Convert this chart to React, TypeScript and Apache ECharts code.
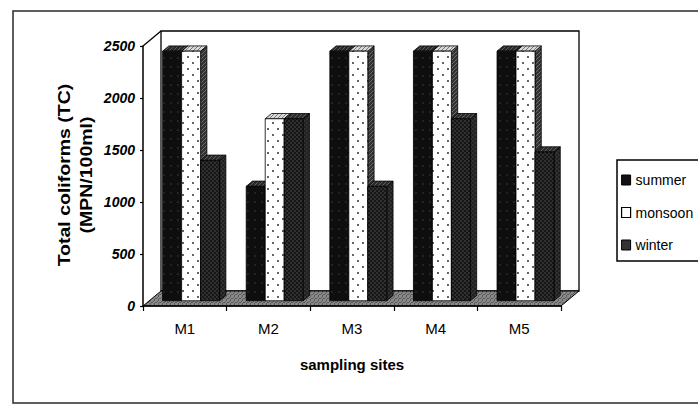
import React, { useEffect, useRef } from "react";
import * as echarts from "echarts";

// Sampling sites and total coliform counts (MPN/100ml) per season
const CATEGORIES = ["M1", "M2", "M3", "M4", "M5"];
const SUMMER = [2400, 1100, 2400, 2400, 2400];
const MONSOON = [2400, 1750, 2400, 2400, 2400];
const WINTER = [1350, 1750, 1100, 1750, 1430];
const SERIES_NAMES = ["summer", "monsoon", "winter"];
const Y_MIN = 0;
const Y_MAX = 2500;
const Y_STEP = 500;

// Plot frame (front plane) and the oblique depth of the 3D box
const GRID = { left: 143, top: 46, width: 418, height: 260 };
const DEPTH = { x: 18, y: -15 };
const BAR_OFFSET = 0.35; // where the bar fronts sit inside the depth
const BAR_DEPTH = 0.35; // how deep each bar is
const BAR_FRAC = 0.227; // bar width as a share of the category band

const FONT = "'Liberation Sans', Arial, sans-serif";

type Faces = { front: any; side: any; top: any };

function tile(w: number, h: number, bg: string, draw: (ctx: CanvasRenderingContext2D) => void) {
  const c = document.createElement("canvas");
  c.width = w;
  c.height = h;
  const ctx = c.getContext("2d")!;
  ctx.fillStyle = bg;
  ctx.fillRect(0, 0, w, h);
  draw(ctx);
  return { image: c, repeat: "repeat", imageWidth: w, imageHeight: h };
}

function dots(ctx: CanvasRenderingContext2D, color: string, r: number, pts: number[][]) {
  ctx.fillStyle = color;
  for (const [x, y] of pts) {
    ctx.beginPath();
    ctx.arc(x, y, r, 0, Math.PI * 2);
    ctx.fill();
  }
}

function hatch(ctx: CanvasRenderingContext2D, color: string, w: number, h: number, step: number, lw: number) {
  ctx.strokeStyle = color;
  ctx.lineWidth = lw;
  for (let k = -h; k < w + h; k += step) {
    ctx.beginPath();
    ctx.moveTo(k, h);
    ctx.lineTo(k + h, 0);
    ctx.stroke();
  }
}

function buildFaces(): Faces[] {
  const summer: Faces = {
    front: tile(7, 9, "#0e0e0e", (c) => dots(c, "#4c4c4c", 0.7, [[3, 4]])),
    side: tile(4, 4, "#242424", (c) => hatch(c, "#4a4a4a", 4, 4, 4, 0.8)),
    top: tile(4, 4, "#2a2a2a", (c) => hatch(c, "#6a6a6a", 4, 4, 4, 0.8)),
  };
  const monsoon: Faces = {
    front: tile(10, 12, "#ffffff", (c) => dots(c, "#1a1a1a", 0.9, [[3, 3], [8, 9]])),
    side: tile(4, 4, "#333333", (c) => hatch(c, "#7a7a7a", 4, 4, 4, 0.8)),
    top: tile(4, 4, "#d8d8d8", (c) => hatch(c, "#555", 4, 4, 4, 0.7)),
  };
  const winter: Faces = {
    front: tile(4, 4, "#161616", (c) => dots(c, "#5e5e5e", 0.7, [[1, 1], [3, 3]])),
    side: tile(4, 4, "#202020", (c) => dots(c, "#505050", 0.7, [[1, 1], [3, 3]])),
    top: tile(4, 4, "#2c2c2c", (c) => hatch(c, "#6a6a6a", 4, 4, 4, 0.8)),
  };
  return [summer, monsoon, winter];
}

function boxRenderer(seriesIndex: number, faces: Faces) {
  return (_params: any, api: any) => {
    const cat = api.value(0);
    const val = api.value(1);
    const base = api.coord([cat, 0]);
    const top = api.coord([cat, val]);
    const band = api.size([1, 0])[0];
    const w = band * BAR_FRAC;
    const ox = DEPTH.x * BAR_OFFSET;
    const oy = DEPTH.y * BAR_OFFSET;
    const dx = DEPTH.x * BAR_DEPTH;
    const dy = DEPTH.y * BAR_DEPTH;
    const x0 = base[0] - 1.5 * w + seriesIndex * w + ox;
    const yb = base[1] + oy;
    const yt = top[1] + oy;
    const edge = { stroke: "#000", lineWidth: 0.8 };
    return {
      type: "group",
      children: [
        {
          type: "polygon",
          shape: { points: [[x0 + w, yt], [x0 + w + dx, yt + dy], [x0 + w + dx, yb + dy], [x0 + w, yb]] },
          style: { fill: faces.side, ...edge },
        },
        {
          type: "polygon",
          shape: { points: [[x0, yt], [x0 + dx, yt + dy], [x0 + w + dx, yt + dy], [x0 + w, yt]] },
          style: { fill: faces.top, ...edge },
        },
        {
          type: "rect",
          shape: { x: x0, y: yt, width: w, height: yb - yt },
          style: { fill: faces.front, ...edge },
        },
      ],
    };
  };
}

export default function App() {
  const ref = useRef<HTMLDivElement>(null);

  useEffect(() => {
    if (!ref.current) return;
    const chart = echarts.init(ref.current, null, { renderer: "svg" });
    const faces = buildFaces();
    const floor = tile(4, 4, "#8a8a8a", (c) => hatch(c, "#444", 4, 4, 3, 0.7));

    const gx0 = GRID.left;
    const gx1 = GRID.left + GRID.width;
    const gy0 = GRID.top;
    const gy1 = GRID.top + GRID.height;

    const values = [SUMMER, MONSOON, WINTER];

    chart.setOption({
      animation: false,
      backgroundColor: "#ffffff",
      grid: { ...GRID, containLabel: false },
      xAxis: {
        type: "category",
        data: CATEGORIES,
        boundaryGap: true,
        axisLine: { lineStyle: { color: "#000", width: 1.5 } },
        axisTick: { show: true, length: 5, lineStyle: { color: "#000", width: 1.2 } },
        axisLabel: { margin: 15, color: "#000", fontSize: 15, fontFamily: FONT },
        name: "sampling sites",
        nameLocation: "middle",
        nameGap: 51,
        nameTextStyle: { color: "#000", fontWeight: "bold", fontSize: 15, fontFamily: FONT },
      },
      yAxis: {
        type: "value",
        min: Y_MIN,
        max: Y_MAX,
        interval: Y_STEP,
        axisLine: { show: true, lineStyle: { color: "#000", width: 1.5 } },
        axisTick: { show: true, length: 3, lineStyle: { color: "#000", width: 1.2 } },
        splitLine: { show: false },
        axisLabel: {
          margin: 8,
          color: "#000",
          fontSize: 14,
          fontWeight: "bold",
          fontStyle: "italic",
          fontFamily: FONT,
          formatter: (v: number) => String(v),
        },
      },
      legend: {
        orient: "vertical",
        left: 617,
        top: 160,
        padding: [11, 20, 7, 4],
        itemGap: 14.5,
        itemWidth: 9,
        itemHeight: 10,
        itemTextGap: 5,
        icon: "rect",
        borderColor: "#000",
        borderWidth: 1.5,
        textStyle: { color: "#000", fontSize: 14, lineHeight: 18, fontFamily: FONT },
        data: [
          { name: "summer", itemStyle: { color: "#111", borderColor: "#000", borderWidth: 1 } },
          { name: "monsoon", itemStyle: { color: "#fff", borderColor: "#000", borderWidth: 1.2 } },
          { name: "winter", itemStyle: { color: "#333", borderColor: "#000", borderWidth: 1 } },
        ],
      },
      graphic: [
        {
          type: "rect",
          z: -10,
          shape: { x: 13, y: 11, width: 690, height: 392 },
          style: { fill: "none", stroke: "#2a2a2a", lineWidth: 1.5 },
        },
        {
          type: "rect",
          z: -5,
          shape: { x: gx0 + DEPTH.x, y: gy0 + DEPTH.y, width: GRID.width, height: GRID.height },
          style: { fill: "#fff", stroke: "#000", lineWidth: 1.3 },
        },
        {
          type: "line",
          z: -5,
          shape: { x1: gx0, y1: gy0, x2: gx0 + DEPTH.x, y2: gy0 + DEPTH.y },
          style: { stroke: "#000", lineWidth: 1.3 },
        },
        {
          type: "polygon",
          z: -4,
          shape: {
            points: [
              [gx0, gy1],
              [gx1, gy1],
              [gx1 + DEPTH.x, gy1 + DEPTH.y],
              [gx0 + DEPTH.x, gy1 + DEPTH.y],
            ],
          },
          style: { fill: floor, stroke: "#000", lineWidth: 1 },
        },
        {
          type: "text",
          x: 76,
          y: 175,
          rotation: Math.PI / 2,
          scaleX: 1.22,
          style: {
            text: "Total coliforms (TC)\n(MPN/100ml)",
            align: "center",
            verticalAlign: "middle",
            lineHeight: 22,
            font: `bold 16px ${FONT}`,
            fill: "#000",
          },
        },
      ],
      series: SERIES_NAMES.map((name, i) => ({
        type: "custom",
        name,
        coordinateSystem: "cartesian2d",
        renderItem: boxRenderer(i, faces[i]),
        encode: { x: 0, y: 1 },
        data: CATEGORIES.map((_, k) => [k, values[i][k]]),
        itemStyle: { color: i === 1 ? "#fff" : "#222" },
        z: 2,
      })),
    });

    return () => chart.dispose();
  }, []);

  return (
    <div
      ref={ref}
      style={{ position: "fixed", left: 0, top: 0, width: 698, height: 406, background: "#fff" }}
    />
  );
}
